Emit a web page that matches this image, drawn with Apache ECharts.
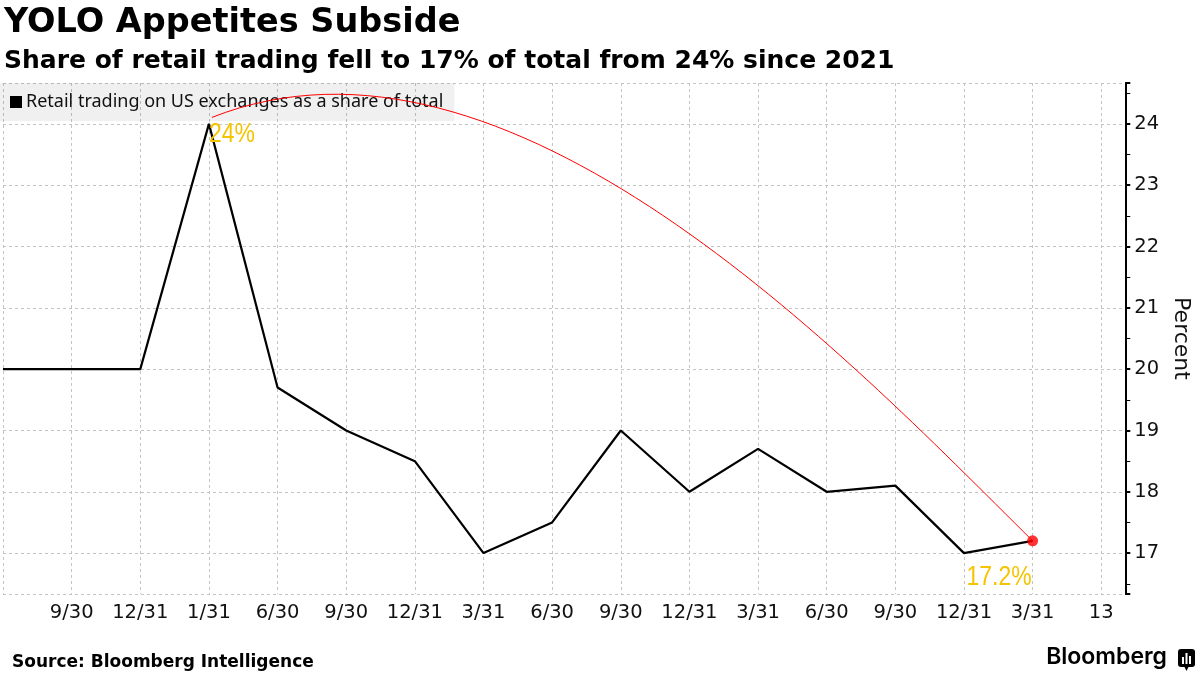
<!DOCTYPE html>
<html>
<head>
<meta charset="utf-8">
<script src="https://cdn.jsdelivr.net/npm/echarts@6/dist/echarts.min.js"></script>
<style>
html,body{margin:0;padding:0;background:#fff;}
#chart{width:1200px;height:675px;}
</style>
</head>
<body>
<div id="chart"></div>
<script>
// ---- data ----
const tickLabels = ['', '9/30', '12/31', '1/31', '6/30', '9/30', '12/31', '3/31', '6/30', '9/30', '12/31', '3/31', '6/30', '9/30', '12/31', '3/31', '13'];
const values = [20, 20, 20, 24, 19.7, 19.0, 18.5, 17.0, 17.5, 19.0, 18.0, 18.7, 18.0, 18.1, 17.0, 17.2];
const seriesName = 'Retail trading on US exchanges as a share of total';
const peakIndex = 3;
const lastIndex = values.length - 1;

const chart = echarts.init(document.getElementById('chart'));
const wideFont = 'DejaVu Sans';
const gridStyle = { color: '#c4c4c4', width: 1, type: [3, 3] };

const option = {
  backgroundColor: '#fff',
  animation: false,
  title: [
    { text: 'YOLO Appetites Subside', left: -1, top: 1,
      textStyle: { fontFamily: wideFont, fontWeight: 'bold', fontSize: 33.5, color: '#000' } },
    { text: 'Share of retail trading fell to 17% of total from 24% since 2021', left: -1, top: 44,
      textStyle: { fontFamily: wideFont, fontWeight: 'bold', fontSize: 25, color: '#000' } },
    { text: 'Source: Bloomberg Intelligence', left: 7, top: 649,
      textStyle: { fontFamily: wideFont, fontWeight: 'bold', fontSize: 17, color: '#000' } }
  ],
  legend: {
    left: 0, top: 83,
    padding: [10, 11, 10, 10],
    backgroundColor: 'rgba(0,0,0,0.06)',
    itemWidth: 12, itemHeight: 12,
    icon: 'rect',
    selectedMode: false,
    data: [{ name: seriesName, itemStyle: { color: '#000' } }],
    textStyle: { fontFamily: 'Noto Sans', fontSize: 18, color: '#111', padding: [0, 0, 0, -1] }
  },
  grid: { left: 0, right: 67, top: 83, bottom: 81, containLabel: false },
  xAxis: {
    type: 'value',
    min: 0, max: 16.35, interval: 1,
    axisLine: { show: false },
    axisTick: { show: false },
    splitLine: { show: true, lineStyle: gridStyle },
    axisLabel: {
      fontFamily: wideFont, fontSize: 19.5, color: '#111', margin: 9,
      showMinLabel: true, showMaxLabel: false,
      formatter: v => (Number.isInteger(v) && tickLabels[v] !== undefined) ? tickLabels[v] : ''
    }
  },
  yAxis: {
    type: 'value',
    position: 'right',
    min: 16.333, max: 24.667, splitNumber: 8,
    name: 'Percent', nameLocation: 'middle', nameRotate: -90, nameGap: 44,
    nameTextStyle: { fontFamily: wideFont, fontSize: 22, color: '#111' },
    axisLine: { show: true, onZero: false, lineStyle: { color: '#000', width: 2 } },
    axisTick: { show: true, inside: false, length: 5, lineStyle: { color: '#000', width: 2 } },
    minorTick: { show: true, splitNumber: 2, length: 5, lineStyle: { color: '#000', width: 1 } },
    splitLine: { show: true, lineStyle: gridStyle },
    axisLabel: {
      fontFamily: wideFont, fontSize: 19.5, color: '#111', margin: 9,
      showMinLabel: false, showMaxLabel: false,
      formatter: v => Number.isInteger(v) ? String(v) : ''
    }
  },
  series: [
    {
      name: seriesName,
      type: 'line',
      data: values.map((v, i) => [i, v]),
      showSymbol: false,
      lineStyle: { color: '#000', width: 2.2 },
      itemStyle: { color: '#000' },
      z: 3
    },
    {
      name: 'latest',
      type: 'scatter',
      z: 5,
      data: [[lastIndex, values[lastIndex]]],
      symbolSize: 11,
      itemStyle: { color: '#ff0000' }
    }
  ]
};
chart.setOption(option);

// annotations: curved arrow from the peak to the latest value, value callouts
function drawAnnotations() {
  const p0 = chart.convertToPixel({ gridIndex: 0 }, [peakIndex, values[peakIndex]]);
  const p3 = chart.convertToPixel({ gridIndex: 0 }, [lastIndex, values[lastIndex]]);
  const s = [p0[0] + 3, p0[1] - 6.5];
  const dx = p3[0] - s[0], dy = p3[1] - s[1];
  const c1 = [s[0] + 0.361 * dx, s[1] - 0.276 * dy];
  const c2 = [p3[0] - 0.229 * dx, p3[1] - 0.44 * dy];
  const calloutFont = '28px "Liberation Sans", sans-serif';
  const calloutColor = '#f5c400';
  chart.setOption({
    graphic: [
      { type: 'bezierCurve', z: 4,
        shape: { x1: s[0], y1: s[1], cpx1: c1[0], cpy1: c1[1], cpx2: c2[0], cpy2: c2[1], x2: p3[0], y2: p3[1] },
        style: { stroke: '#ff0000', lineWidth: 1, fill: null } },
      { type: 'text', z: 6, x: p0[0], y: p0[1] - 4, scaleX: 0.82,
        style: { text: values[peakIndex] + '%', font: calloutFont, fill: calloutColor, align: 'left', verticalAlign: 'top' } },
      { type: 'text', z: 6, x: p3[0] - 1, y: p3[1] + 22, scaleX: 0.82,
        style: { text: values[lastIndex] + '%', font: calloutFont, fill: calloutColor, align: 'right', verticalAlign: 'top' } },
      { type: 'text', right: 33, top: 646,
        style: { text: 'Bloomberg', font: '600 23px Inter, "Noto Sans", sans-serif', fill: '#000' } },
      { type: 'group', left: 1178, top: 649, children: [
        { type: 'rect', shape: { x: 0, y: 0, width: 17, height: 18, r: 3 }, style: { fill: '#000' } },
        { type: 'polygon', shape: { points: [[6, 17], [11, 17], [8.5, 22]] }, style: { fill: '#000' } },
        { type: 'rect', shape: { x: 4, y: 8, width: 2, height: 7 }, style: { fill: '#fff' } },
        { type: 'rect', shape: { x: 7.5, y: 4, width: 2, height: 11 }, style: { fill: '#fff' } },
        { type: 'rect', shape: { x: 11, y: 7, width: 2, height: 8 }, style: { fill: '#fff' } }
      ] }
    ]
  });
}
drawAnnotations();
</script>
</body>
</html>
